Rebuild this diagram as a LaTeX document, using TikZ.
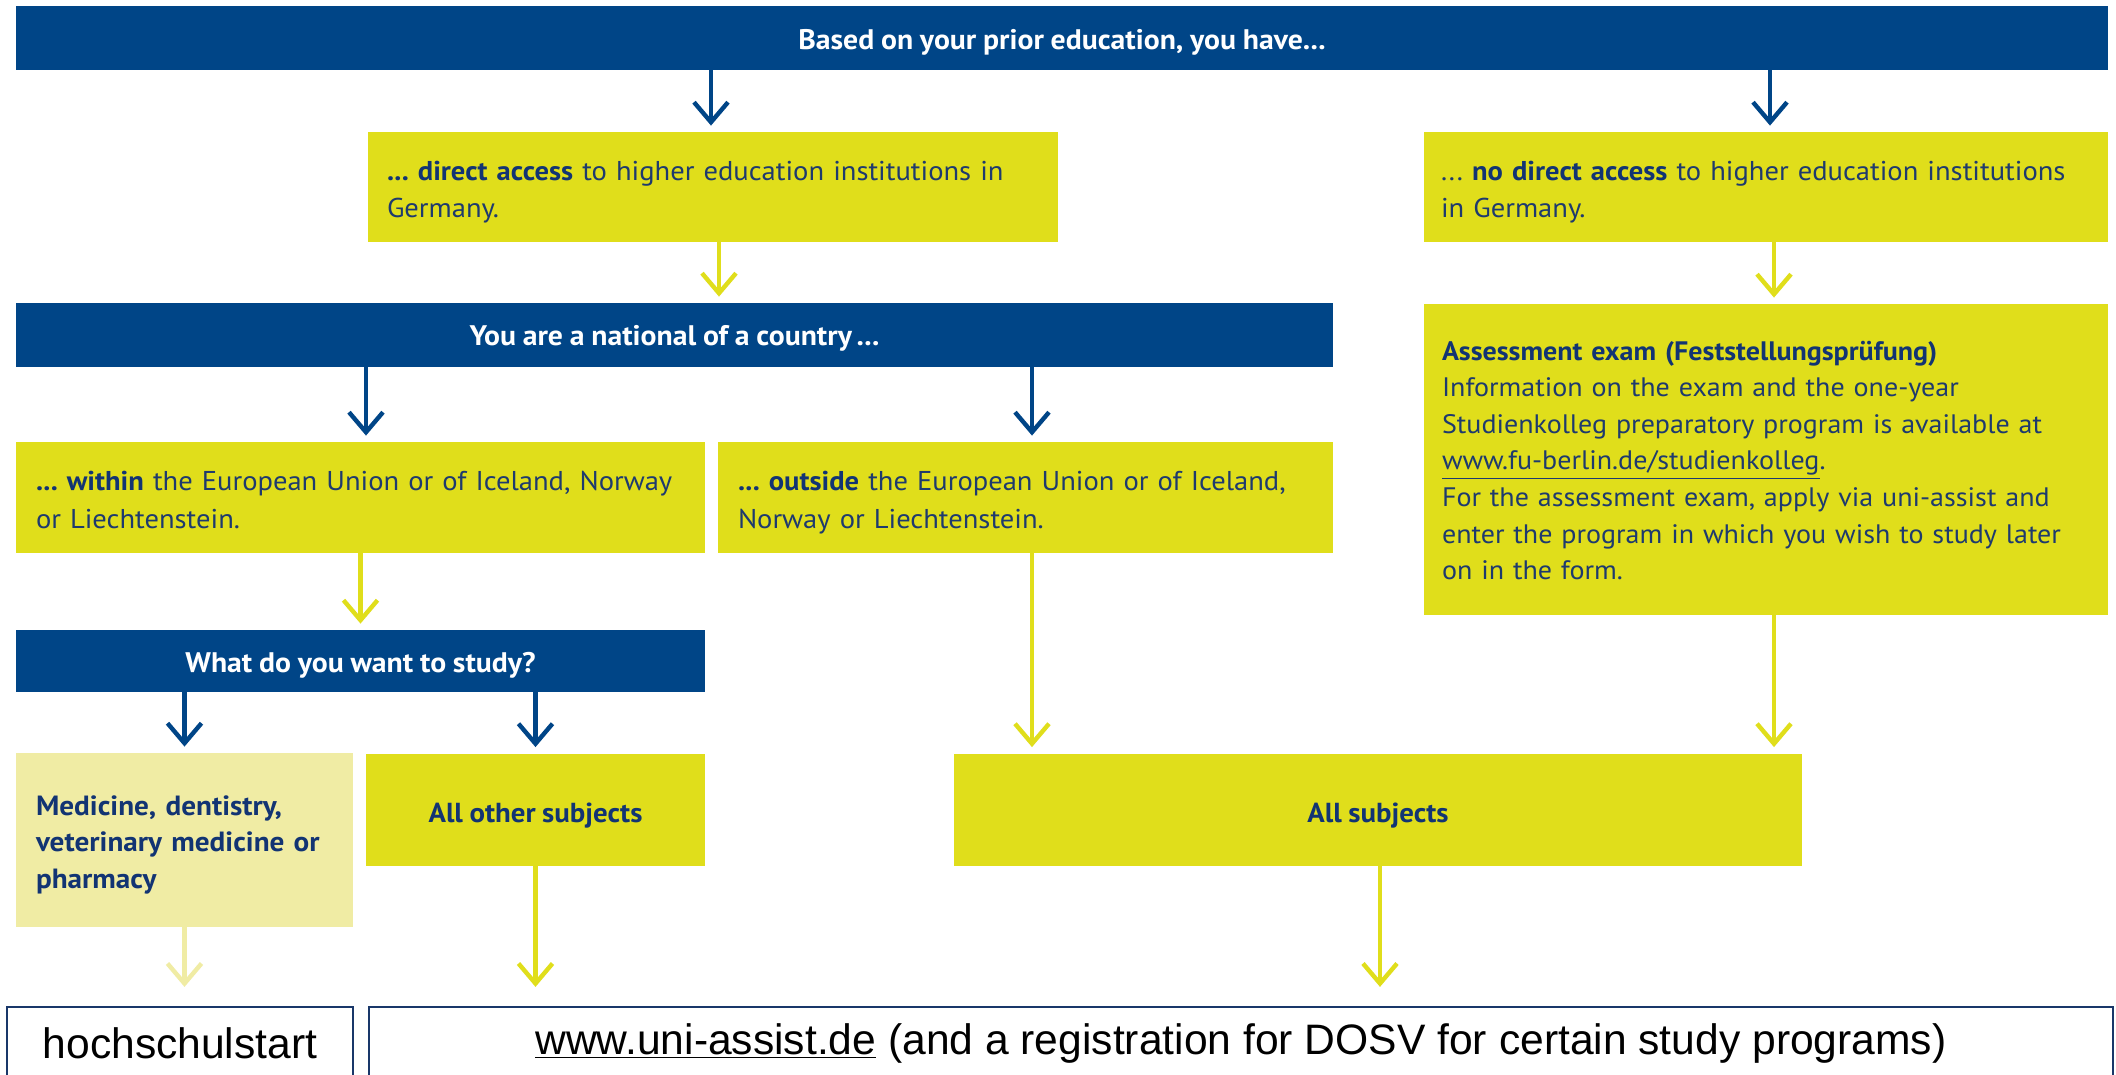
\documentclass[tikz,border=0pt]{standalone}
\usepackage{fontspec}
\setmainfont{Liberation Sans}
\newfontfamily\fu[FakeStretch=1.05,WordSpace=0.9]{PT Sans}
\usetikzlibrary{arrows.meta}
\definecolor{fublue}{RGB}{0,69,135}
\definecolor{fuyellow}{RGB}{224,222,27}
\definecolor{fulight}{RGB}{240,236,164}
\definecolor{futext}{RGB}{30,58,110}
\definecolor{fubold}{RGB}{18,52,115}
\definecolor{outlinec}{RGB}{25,55,105}
\newcommand\oneline[1]{\mbox{#1}}
\frenchspacing
\begin{document}
\begin{tikzpicture}[x=0.5pt,y=-0.5pt,
  bar/.style={fill=fublue, text=white, font=\fu\frenchspacing\fontsize{14.15}{16}\selectfont\bfseries, inner sep=0pt, minimum height=32pt, text height=11pt, text depth=0pt},
  ybox/.style={fill=fuyellow, text=futext, font=\fu\frenchspacing\fontsize{13.6}{18.75}\selectfont, align=left, inner ysep=0pt, text height=12pt, text depth=18.75pt},
  lbox/.style={ybox, fill=fulight},
  cbox/.style={fill=fuyellow, text=fubold, font=\fu\frenchspacing\fontsize{13.75}{16}\selectfont\bfseries, align=center, inner sep=0pt, minimum height=56pt, text height=12.5pt, text depth=0pt},
  obox/.style={draw=outlinec, line width=1.1pt, fill=white, text=black, font=\fontsize{21.3}{25}\selectfont, inner sep=0pt, minimum height=36pt},
  barr/.style={draw=fublue, line width=2.2pt, -{Straight Barb[length=10pt,width=17pt]}, shorten >=3pt},
  yarr/.style={barr, draw=fuyellow},
  larr/.style={barr, draw=fulight}
]
\useasboundingbox (0,0) rectangle (2116,1075);
\fill[white] (0,0) rectangle (2116,1075);
\clip (0,0) rectangle (2116,1075);

\node[bar, minimum width=1046pt, text height=11.5pt] (top) at (1062,38) {Based on your prior education, you have...};

\node[ybox, text width=326pt, inner xsep=9.5pt, minimum height=55pt] (direct) at (713,187)
  {\oneline{{\bfseries\color{fubold}... direct access} to higher education institutions in}\\\oneline{Germany.}};
\node[ybox, text width=325pt, inner xsep=8.5pt, minimum height=55pt] (nodirect) at (1766,187)
  {\oneline{... {\bfseries\color{fubold}no direct access} to higher education institutions}\\\oneline{in Germany.}};

\node[bar, minimum width=658.5pt] (national) at (674.5,335) {You are a national of a country\,...};

\node[ybox, text width=324.5pt, inner xsep=10pt, minimum height=55.5pt] (within) at (360.5,497.5)
  {\oneline{{\bfseries\color{fubold}... within} the European Union or of Iceland, Norway}\\\oneline{or Liechtenstein.}};
\node[ybox, text width=287.5pt, inner xsep=10pt, minimum height=55.5pt] (outside) at (1025.5,497.5)
  {\oneline{{\bfseries\color{fubold}... outside} the European Union or of Iceland,}\\\oneline{Norway or Liechtenstein.}};

\node[ybox, text width=324pt, inner xsep=9pt, minimum height=155.5pt, font=\fu\frenchspacing\fontsize{13.35}{18.33}\selectfont, text height=12pt, text depth=111.5pt] (assess) at (1766,459.5)
  {\oneline{{\bfseries\color{fubold}Assessment exam (Feststellungsprüfung)}}\\
   \oneline{Information on the exam and the one-year}\\
   \oneline{Studienkolleg preparatory program is available at}\\
   \oneline{\underline{www.fu-berlin.de/studienkolleg}.}\\
   \oneline{For the assessment exam, apply via uni-assist and}\\
   \oneline{enter the program in which you wish to study later}\\
   \oneline{on in the form.}};

\node[bar, minimum width=344.5pt, minimum height=31pt] (what) at (360.5,661) {What do you want to study?};

\node[lbox, text width=148.5pt, inner xsep=10pt, minimum height=87pt, font=\fu\frenchspacing\fontsize{13.9}{18.25}\selectfont\bfseries, text=fubold, text height=12pt, text depth=37pt] (medicine) at (184.5,840)
  {\oneline{Medicine, dentistry,}\\\oneline{veterinary medicine or}\\\oneline{pharmacy}};
\node[cbox, minimum width=169.5pt] (other) at (535.5,809.5) {All other subjects};
\node[cbox, minimum width=424pt] (allsub) at (1378,809.5) {All subjects};

\node[obox, minimum width=173pt] (hoch) at (180,1043) {hochschulstart};
\node[obox, minimum width=872pt] (uni) at (1241,1043)
  {\underline{www.uni-assist.de} (and a registration for DOSV for certain study programs)};

% connectors
\draw[barr] ([xshift=-1pt]direct.north |- top.south) -- ([xshift=-1pt]direct.north);
\draw[barr] ([xshift=2pt]nodirect.north |- top.south) -- ([xshift=2pt]nodirect.north);
\draw[yarr] ([xshift=3pt]direct.south) -- ([xshift=3pt]direct.south |- national.north);
\draw[yarr] ([xshift=4pt]nodirect.south) -- ([xshift=4pt]nodirect.south |- assess.north);
\draw[barr] ([xshift=2.75pt]within.north |- national.south) -- ([xshift=2.75pt]within.north);
\draw[barr] ([xshift=3.25pt]outside.north |- national.south) -- ([xshift=3.25pt]outside.north);
\draw[yarr] (within.south) -- (within.south |- what.north);
\draw[yarr] ([xshift=3.25pt]outside.south) -- ([xshift=3.25pt]outside.south |- allsub.north);
\draw[yarr] ([xshift=4pt]assess.south) -- ([xshift=4pt]assess.south |- allsub.north);
\draw[barr] (medicine.north |- what.south) -- (medicine.north);
\draw[barr] (other.north |- what.south) -- (other.north);
\draw[larr, shorten >=9.5pt] (medicine.south) -- (medicine.south |- hoch.north);
\draw[yarr, shorten >=9.5pt] (other.south) -- (other.south |- uni.north);
\draw[yarr, shorten >=9.5pt] ([xshift=1pt]allsub.south) -- ([xshift=1pt]allsub.south |- uni.north);
\end{tikzpicture}
\end{document}
